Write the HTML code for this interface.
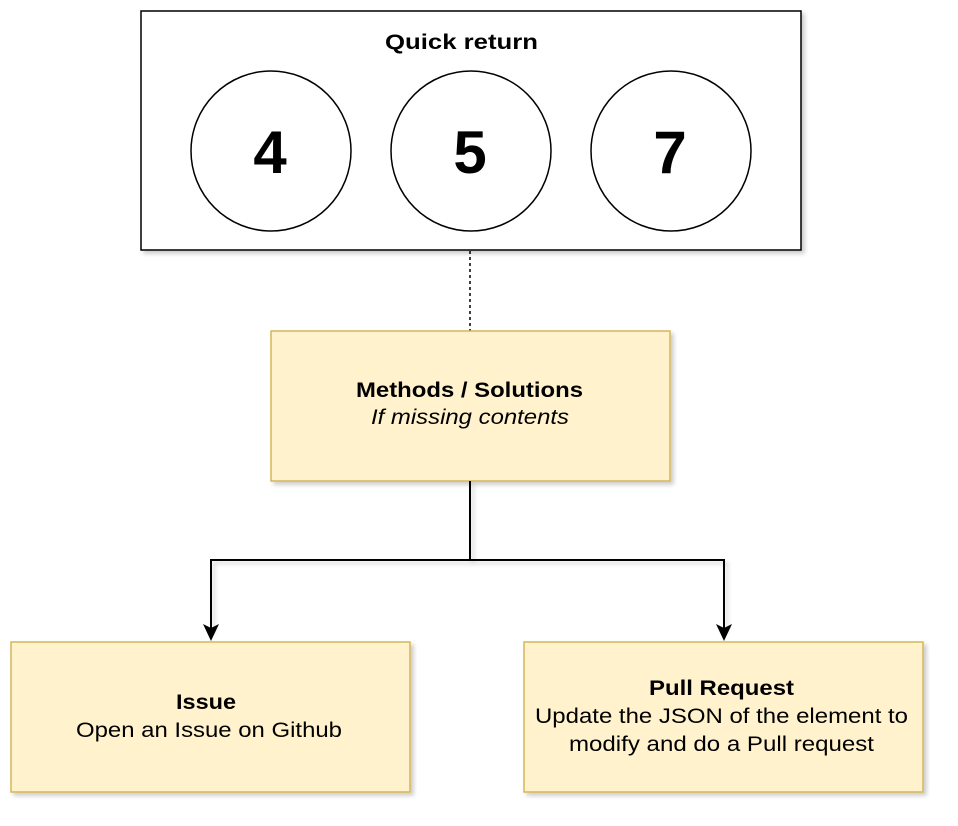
<!DOCTYPE html>
<html><head><meta charset="utf-8"><style>html,body{margin:0;padding:0;background:#fff}svg{display:block}</style></head>
<body>
<svg width="958" height="826" viewBox="0 0 958 826" xmlns="http://www.w3.org/2000/svg" font-family="'Liberation Sans', Arial, sans-serif">
<defs>
<filter id="sh" x="-10%" y="-10%" width="130%" height="130%"><feGaussianBlur in="SourceAlpha" stdDeviation="2"/><feOffset dx="3" dy="3"/><feComponentTransfer><feFuncA type="linear" slope="0.2"/></feComponentTransfer><feMerge><feMergeNode/><feMergeNode in="SourceGraphic"/></feMerge></filter>
</defs>
<rect x="141" y="11" width="660" height="239" fill="#fff" stroke="#000" stroke-width="1.5" filter="url(#sh)"/>
<text x="385" y="49" font-size="21" font-weight="bold" textLength="153" lengthAdjust="spacingAndGlyphs">Quick return</text>
<g fill="#fff" stroke="#000" stroke-width="1.5">
<circle cx="271" cy="151" r="80"/><circle cx="471" cy="151" r="80"/><circle cx="671" cy="151" r="80"/>
</g>
<g font-size="60" font-weight="bold" text-anchor="middle">
<text x="270" y="173">4</text><text x="470" y="173">5</text><text x="670" y="173">7</text>
</g>
<line x1="470" y1="251" x2="470" y2="331" stroke="#000" stroke-width="1.5" stroke-dasharray="3,3"/>
<rect x="271" y="331" width="399" height="150" fill="#fff2cc" stroke="#d6b656" stroke-width="1.5" filter="url(#sh)"/>
<text x="356" y="397" font-size="21" font-weight="bold" textLength="227" lengthAdjust="spacingAndGlyphs">Methods / Solutions</text>
<text x="371" y="424" font-size="21" font-style="italic" textLength="198" lengthAdjust="spacingAndGlyphs">If missing contents</text>
<g stroke="#000" stroke-width="2" fill="none" filter="url(#sh)">
<path d="M470 481 V560 H211 V630"/>
<path d="M470 560 H724 V630"/>
</g>
<path d="M203 624 L211 641 L219 624 L211 628 Z" fill="#000"/>
<path d="M716 624 L724 641 L732 624 L724 628 Z" fill="#000"/>
<rect x="11" y="642" width="399" height="150" fill="#fff2cc" stroke="#d6b656" stroke-width="1.5" filter="url(#sh)"/>
<text x="176" y="709" font-size="21" font-weight="bold" textLength="60" lengthAdjust="spacingAndGlyphs">Issue</text>
<text x="76" y="737" font-size="21" textLength="266" lengthAdjust="spacingAndGlyphs">Open an Issue on Github</text>
<rect x="524" y="642" width="399" height="150" fill="#fff2cc" stroke="#d6b656" stroke-width="1.5" filter="url(#sh)"/>
<text x="649" y="695" font-size="21" font-weight="bold" textLength="145" lengthAdjust="spacingAndGlyphs">Pull Request</text>
<text x="535" y="723" font-size="21" textLength="373" lengthAdjust="spacingAndGlyphs">Update the JSON of the element to</text>
<text x="569" y="751" font-size="21" textLength="305" lengthAdjust="spacingAndGlyphs">modify and do a Pull request</text>
</svg>
</body></html>
